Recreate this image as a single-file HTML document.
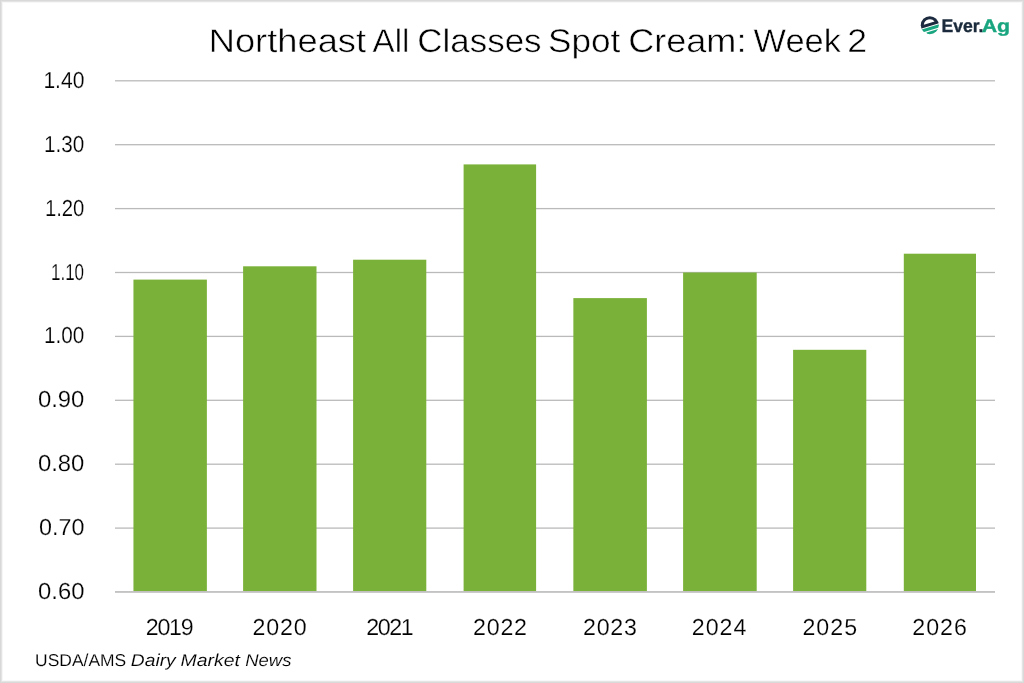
<!DOCTYPE html>
<html><head><meta charset="utf-8"><style>
html,body{margin:0;padding:0;background:#fff;}
body{width:1024px;height:683px;overflow:hidden;position:relative;}
svg{position:absolute;left:0;top:0;will-change:transform;}
text{font-family:"Liberation Sans",Arial,sans-serif;fill:#000;text-rendering:geometricPrecision;stroke:#fff;stroke-width:0.2px;}
.ax{font-size:23.2px;}
.title{font-size:32.8px;stroke-width:0.5px;}
.src{font-size:17.2px;fill:#000;stroke-width:0.12px;}
.logo{font-size:18.2px;font-weight:bold;stroke:none;}
</style></head><body>
<svg width="1024" height="683" viewBox="0 0 1024 683">
<rect x="115" y="527.45" width="880" height="1.3" fill="#bababa"/>
<rect x="115" y="463.55" width="880" height="1.3" fill="#bababa"/>
<rect x="115" y="399.65" width="880" height="1.3" fill="#bababa"/>
<rect x="115" y="335.75" width="880" height="1.3" fill="#bababa"/>
<rect x="115" y="271.85" width="880" height="1.3" fill="#bababa"/>
<rect x="115" y="207.95" width="880" height="1.3" fill="#bababa"/>
<rect x="115" y="144.05" width="880" height="1.3" fill="#bababa"/>
<rect x="115" y="80.15" width="880" height="1.3" fill="#bababa"/>
<rect x="133.45" y="279.60" width="73.42" height="311.60" fill="#7AB239"/>
<rect x="243.10" y="266.30" width="73.40" height="324.90" fill="#7AB239"/>
<rect x="353.10" y="259.70" width="73.20" height="331.50" fill="#7AB239"/>
<rect x="463.60" y="164.40" width="72.50" height="426.80" fill="#7AB239"/>
<rect x="573.35" y="298.10" width="73.55" height="293.10" fill="#7AB239"/>
<rect x="683.10" y="272.50" width="73.60" height="318.70" fill="#7AB239"/>
<rect x="793.10" y="349.80" width="73.20" height="241.40" fill="#7AB239"/>
<rect x="903.80" y="253.70" width="72.20" height="337.50" fill="#7AB239"/>
<rect x="115" y="591.1" width="880" height="1.7" fill="#bdbdbd"/>
<text x="43.39" y="87.80" textLength="40.98" lengthAdjust="spacingAndGlyphs" class="ax">1.40</text>
<text x="44.05" y="151.70" textLength="40.28" lengthAdjust="spacingAndGlyphs" class="ax">1.30</text>
<text x="44.92" y="215.60" textLength="39.48" lengthAdjust="spacingAndGlyphs" class="ax">1.20</text>
<text x="50.97" y="279.50" textLength="33.10" lengthAdjust="spacingAndGlyphs" class="ax">1.10</text>
<text x="44.05" y="343.40" textLength="40.28" lengthAdjust="spacingAndGlyphs" class="ax">1.00</text>
<text x="37.95" y="407.30" textLength="46.46" lengthAdjust="spacingAndGlyphs" class="ax">0.90</text>
<text x="37.95" y="471.20" textLength="46.46" lengthAdjust="spacingAndGlyphs" class="ax">0.80</text>
<text x="39.06" y="535.10" textLength="45.40" lengthAdjust="spacingAndGlyphs" class="ax">0.70</text>
<text x="38.11" y="599.00" textLength="46.34" lengthAdjust="spacingAndGlyphs" class="ax">0.60</text>
<text x="145.82" y="635.00" textLength="47.79" lengthAdjust="spacing" class="ax">2019</text>
<text x="252.59" y="635.00" textLength="53.95" lengthAdjust="spacing" class="ax">2020</text>
<text x="366.22" y="635.00" textLength="47.54" lengthAdjust="spacing" class="ax">2021</text>
<text x="473.00" y="635.00" textLength="54.02" lengthAdjust="spacing" class="ax">2022</text>
<text x="583.00" y="635.00" textLength="53.93" lengthAdjust="spacing" class="ax">2023</text>
<text x="691.77" y="635.00" textLength="54.58" lengthAdjust="spacing" class="ax">2024</text>
<text x="802.39" y="635.00" textLength="54.75" lengthAdjust="spacing" class="ax">2025</text>
<text x="912.32" y="635.00" textLength="54.59" lengthAdjust="spacing" class="ax">2026</text>
<text class="logo" y="31.70"><tspan x="941.42" textLength="42.10" lengthAdjust="spacingAndGlyphs" style="fill:#1b2b3c;stroke:#1b2b3c;stroke-width:0.35px">Ever.</tspan><tspan x="981.74" textLength="28.41" lengthAdjust="spacingAndGlyphs" style="fill:#18a57f;stroke:#18a57f;stroke-width:0.35px">Ag</tspan></text>
<text class="title" y="52.40"><tspan x="208.74" textLength="157.34" lengthAdjust="spacingAndGlyphs">Northeast</tspan> <tspan x="372.63" textLength="36.74" lengthAdjust="spacingAndGlyphs">All</tspan> <tspan x="417.38" textLength="124.12" lengthAdjust="spacingAndGlyphs">Classes</tspan> <tspan x="547.94" textLength="72.34" lengthAdjust="spacingAndGlyphs">Spot</tspan> <tspan x="628.15" textLength="118.31" lengthAdjust="spacingAndGlyphs">Cream:</tspan> <tspan x="753.60" textLength="87.32" lengthAdjust="spacingAndGlyphs">Week</tspan> <tspan x="847.31" textLength="19.87" lengthAdjust="spacingAndGlyphs">2</tspan></text>
<text class="src" y="666.00"><tspan x="35.09" textLength="91.16" lengthAdjust="spacingAndGlyphs">USDA/AMS</tspan> <tspan x="130.79" textLength="44.90" lengthAdjust="spacingAndGlyphs" font-style="italic">Dairy</tspan> <tspan x="180.54" textLength="59.42" lengthAdjust="spacingAndGlyphs" font-style="italic">Market</tspan> <tspan x="245.15" textLength="46.25" lengthAdjust="spacingAndGlyphs" font-style="italic">News</tspan></text>
<g id="logoicon"><defs><clipPath id="cc"><circle cx="929.8" cy="25.2" r="9"/></clipPath></defs>
<g clip-path="url(#cc)"><g transform="rotate(-16.5 929.8 25.2)">
<rect x="919" y="14" width="22" height="12.0" fill="#1b2a3e"/>
<path d="M924.18 23.1 A6 6 0 0 1 935.42 23.1 Z" fill="#fff"/>
<rect x="919" y="27.0" width="22" height="3.1" fill="#18a57f"/>
<rect x="924.6" y="31.2" width="17" height="4" fill="#18a57f"/>
</g></g></g>
<g id="border">
<rect x="0" y="2" width="1024" height="1" fill="#f7f7f7"/><rect x="2" y="0" width="1" height="683" fill="#f6f6f6"/><rect x="1021" y="0" width="1" height="683" fill="#f8f8f8"/><rect x="0" y="680" width="1024" height="1" fill="#f8f8f8"/>
<rect x="0" y="1" width="1024" height="1" fill="#e4e4e4"/><rect x="1" y="0" width="1" height="683" fill="#e3e3e3"/><rect x="1022" y="0" width="1" height="683" fill="#e4e4e4"/><rect x="0" y="681" width="1024" height="1" fill="#e5e5e5"/>
<rect x="0" y="0" width="1024" height="1" fill="#d9d9d9"/><rect x="0" y="0" width="1" height="683" fill="#d8d8d8"/><rect x="1023" y="0" width="1" height="683" fill="#d9d9d9"/><rect x="0" y="682" width="1024" height="1" fill="#d9d9d9"/>
</g>
</svg>
</body></html>
